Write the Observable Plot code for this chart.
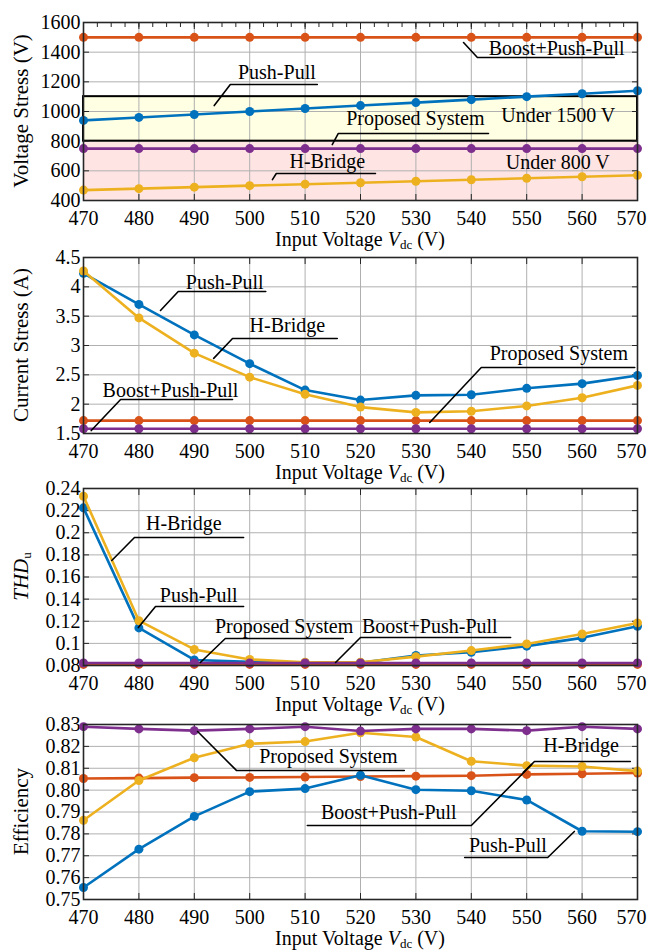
<!DOCTYPE html>
<html><head><meta charset="utf-8">
<script src="https://cdn.jsdelivr.net/npm/d3@7"></script>
<script src="https://cdn.jsdelivr.net/npm/@observablehq/plot@0.6"></script>
<style>
html,body{margin:0;padding:0;background:#fff;width:648px;height:952px;overflow:hidden;}
#root{position:relative;width:648px;height:952px;}
.panel{position:absolute;left:0;}
</style></head><body><div id="root"></div>
<script>
// ---------- data ----------
const vdc = [470, 480, 490, 500, 510, 520, 530, 540, 550, 560, 570];
const seriesNames = ["Boost+Push-Pull", "Push-Pull", "H-Bridge", "Proposed System"];

// Panel 1: voltage stress (V)
const vsBoost    = [1500, 1500, 1500, 1500, 1500, 1500, 1500, 1500, 1500, 1500, 1500];
const vsPushPull = [940, 960, 980, 1000, 1020, 1040, 1060, 1080, 1100, 1120, 1140];
const vsHBridge  = [470, 480, 490, 500, 510, 520, 530, 540, 550, 560, 570];
const vsProposed = [750, 750, 750, 750, 750, 750, 750, 750, 750, 750, 750];
const vsTicks = [400, 600, 800, 1000, 1200, 1400, 1600];
const vsTickLabels = ["400", "600", "800", "1000", "1200", "1400", "1600"];
const vsBandLabels = ["Under 800 V", "Under 1500 V"];
const vsBandLow = [400, 800];
const vsBandHigh = [800, 1100];

// Panel 2: current stress (A)
const csBoost    = [1.72, 1.72, 1.72, 1.72, 1.72, 1.72, 1.72, 1.72, 1.72, 1.72, 1.72];
const csPushPull = [4.23, 3.70, 3.18, 2.69, 2.24, 2.07, 2.15, 2.16, 2.27, 2.35, 2.49];
const csHBridge  = [4.27, 3.47, 2.87, 2.46, 2.17, 1.95, 1.86, 1.88, 1.97, 2.11, 2.32];
const csProposed = [1.58, 1.58, 1.58, 1.58, 1.58, 1.58, 1.58, 1.58, 1.58, 1.58, 1.58];
const csTicks = [1.5, 2, 2.5, 3, 3.5, 4, 4.5];
const csTickLabels = ["1.5", "2", "2.5", "3", "3.5", "4", "4.5"];

// Panel 3: THDu
const thdBoost    = [0.081, 0.081, 0.081, 0.081, 0.081, 0.081, 0.081, 0.081, 0.081, 0.081, 0.081];
const thdPushPull = [0.2225, 0.114, 0.0850, 0.0833, 0.0825, 0.0825, 0.0890, 0.0920, 0.0975, 0.1050, 0.1155];
const thdHBridge  = [0.2330, 0.1205, 0.0945, 0.0855, 0.0830, 0.0830, 0.0880, 0.0935, 0.0995, 0.1085, 0.1185];
const thdProposed = [0.0823, 0.0823, 0.0823, 0.0823, 0.0823, 0.0823, 0.0823, 0.0823, 0.0823, 0.0823, 0.0823];
const thdTicks = [0.08, 0.1, 0.12, 0.14, 0.16, 0.18, 0.2, 0.22, 0.24];
const thdTickLabels = ["0.08", "0.1", "0.12", "0.14", "0.16", "0.18", "0.2", "0.22", "0.24"];

// Panel 4: efficiency
const efBoost    = [0.8053, 0.8055, 0.8057, 0.8058, 0.8060, 0.8062, 0.8064, 0.8066, 0.8072, 0.8075, 0.8078];
const efPushPull = [0.7555, 0.7730, 0.7880, 0.7993, 0.8007, 0.8068, 0.8002, 0.7997, 0.7955, 0.7812, 0.7810];
const efHBridge  = [0.7862, 0.8044, 0.8148, 0.8212, 0.8222, 0.8262, 0.8243, 0.8132, 0.8112, 0.8108, 0.8087];
const efProposed = [0.8290, 0.8280, 0.8272, 0.8280, 0.8290, 0.8270, 0.8280, 0.8280, 0.8272, 0.8290, 0.8280];
const efTicks = [0.75, 0.76, 0.77, 0.78, 0.79, 0.80, 0.81, 0.82, 0.83];
const efTickLabels = ["0.75", "0.76", "0.77", "0.78", "0.79", "0.80", "0.81", "0.82", "0.83"];

// annotations (data coordinates): label, text centre, leader tip, elbow, underline end
const ann1Labels = ["Boost+Push-Pull", "Push-Pull", "Proposed System", "H-Bridge"];
const ann1Text  = [[555.4, 1425], [504.9, 1263], [529.9, 953], [514.0, 663]];
const ann1Tip   = [[538.6, 1465], [493.6, 1040], [514.9, 777], [504.1, 541]];
const ann1Elbow = [[541.1, 1364], [496.5, 1182], [516.0, 852], [504.8, 582]];
const ann1End   = [[565.8, 1364], [512.2, 1182], [543.1, 852], [522.7, 582]];
const band1Text = [[555.6, 656], [555.7, 973]];

const ann2Labels = ["Push-Pull", "H-Bridge", "Proposed System", "Boost+Push-Pull"];
const ann2Text  = [[495.5, 4.074], [506.8, 3.34], [555.8, 2.864], [485.7, 2.233]];
const ann2Tip   = [[483.9, 3.597], [493.5, 2.78], [532.5, 1.688], [471.4, 1.55]];
const ann2Elbow = [[487.1, 3.92], [496.9, 3.12], [541.8, 2.625], [476.7, 2.08]];
const ann2End   = [[502.9, 3.92], [515.8, 3.12], [569.5, 2.625], [496.9, 2.08]];

const ann3Labels = ["H-Bridge", "Push-Pull", "Proposed System", "Boost+Push-Pull"];
const ann3Text  = [[488.1, 0.2084], [490.8, 0.1433], [506.2, 0.1152], [532.5, 0.1152]];
const ann3Tip   = [[475.1, 0.1749], [479.9, 0.1143], [491.1, 0.0827], [515.5, 0.0827]];
const ann3Elbow = [[479.2, 0.1957], [483.0, 0.1333], [495.6, 0.1044], [520.0, 0.1053]];
const ann3End   = [[498.9, 0.1957], [498.9, 0.1333], [516.9, 0.1044], [547.1, 0.1053]];

const ann4Labels = ["Proposed System", "H-Bridge", "Boost+Push-Pull", "Push-Pull"];
const ann4Text  = [[514.2, 0.8154], [559.8, 0.8204], [525.1, 0.7898], [546.6, 0.7747]];
const ann4Tip   = [[490.6, 0.8268], [549.4, 0.8081], [550.9, 0.8117], [558.6, 0.7811]];
const ann4Elbow = [[497.6, 0.8090], [551.4, 0.8131], [540.0, 0.7838], [553.8, 0.7692]];
const ann4End   = [[527.9, 0.8090], [568.7, 0.8131], [510.4, 0.7838], [538.8, 0.7692]];

// ---------- styling ----------
const COLORS = {"Boost+Push-Pull": "#D95319", "Push-Pull": "#0072BD", "H-Bridge": "#EDB120", "Proposed System": "#7E2F8E"};
const DRAW_ORDER = ["Boost+Push-Pull", "Push-Pull", "H-Bridge", "Proposed System"];
const FONT = '"Liberation Serif", "Times New Roman", Times, serif';
const GRID = "#b0b0b0";
const FRAME = "#262626";
const W = 648, ML = 83, MR = 11, MT = 22, MB = 53;

function annTable(labels, text, tip, elbow, end) {
  return labels.map((label, i) => ({label, tx: text[i][0], ty: text[i][1],
    pts: [tip[i], elbow[i], end[i]]}));
}

function makePanel(cfg) {
  const rows = [];
  DRAW_ORDER.forEach(name => {
    const vals = cfg.values[name];
    vdc.forEach((v, i) => rows.push({name, x: v, y: vals[i]}));
  });
  const labelMap = new Map(cfg.yTicks.map((t, i) => [t, cfg.yTickLabels[i]]));
  const anns = cfg.anns;
  const annPts = anns.flatMap(a => a.pts.map(p => ({label: a.label, x: p[0], y: p[1]})));
  const h = cfg.bottom - cfg.top;
  const marks = [];
  if (cfg.bands) {
    marks.push(Plot.rect(cfg.bands.filter(b => b.kind === "low"), {x1: "x1", x2: "x2", y1: "y1", y2: "y2", fill: "#FFE4E4"}));
    marks.push(Plot.rect(cfg.bands.filter(b => b.kind === "high"), {x1: "x1", x2: "x2", y1: "y1", y2: "y2", fill: "#FFFFE3"}));
  }
  marks.push(Plot.gridX(vdc, {stroke: GRID, strokeOpacity: 1, strokeWidth: 1}));
  marks.push(Plot.gridY(cfg.yTicks, {stroke: GRID, strokeOpacity: 1, strokeWidth: 1}));
  if (cfg.bands) {
    marks.push(Plot.rect(cfg.bands.filter(b => b.kind === "high"), {x1: "x1", x2: "x2", y1: "y1", y2: "y2", fill: "none", stroke: "#000", strokeWidth: 2}));
  }
  if (cfg.minorX) {
    marks.push(Plot.axisX(cfg.minorX, {anchor: "top", tickSize: 4, dy: 4, tickFormat: () => "", label: null, stroke: FRAME}));
  }
  // inward ticks
  marks.push(Plot.axisX(vdc, {anchor: "top", tickSize: 6, dy: 6, tickFormat: () => "", label: null, stroke: FRAME}));
  marks.push(Plot.axisX(vdc, {anchor: "bottom", tickSize: 6, dy: -6, tickFormat: () => "", label: null, stroke: FRAME}));
  marks.push(Plot.axisY(cfg.yTicks, {anchor: "left", tickSize: 6, dx: 6, tickFormat: () => "", label: null, stroke: FRAME}));
  marks.push(Plot.axisY(cfg.yTicks, {anchor: "right", tickSize: 6, dx: -6, tickFormat: () => "", label: null, stroke: FRAME}));
  // tick labels (last one nudged so it stays inside the page, as in the reference)
  marks.push(Plot.axisX(vdc.slice(0, -1), {anchor: "bottom", tickSize: 0, tickPadding: 10, tickFormat: d => String(d), label: null, fontSize: 20, fill: "#000"}));
  marks.push(Plot.axisX(vdc.slice(-1), {anchor: "bottom", tickSize: 0, tickPadding: 10, dx: -6, tickFormat: d => String(d), label: null, fontSize: 20, fill: "#000"}));
  marks.push(Plot.axisY(cfg.yTicks, {anchor: "left", tickSize: 0, tickPadding: 3, tickFormat: d => labelMap.get(d), label: null, fontSize: 20, fill: "#000"}));
  // series
  DRAW_ORDER.forEach(name => {
    const d = rows.filter(r => r.name === name);
    marks.push(Plot.line(d, {x: "x", y: "y", stroke: COLORS[name], strokeWidth: 2.6}));
    marks.push(Plot.dot(d, {x: "x", y: "y", fill: COLORS[name], r: 4.5}));
  });
  // annotations
  marks.push(Plot.line(annPts, {x: "x", y: "y", z: "label", stroke: "#000", strokeWidth: 1.6}));
  marks.push(Plot.text(anns, {x: "tx", y: "ty", text: "label", fontSize: 20, fill: "#000", textAnchor: "middle", lineAnchor: "middle"}));
  if (cfg.bands) {
    marks.push(Plot.text(cfg.bands, {x: "tx", y: "ty", text: "label", fontSize: 20, fill: "#000", textAnchor: "middle", lineAnchor: "middle"}));
  }
  marks.push(Plot.frame({stroke: FRAME, strokeWidth: 1.6}));

  const svg = Plot.plot({
    width: W, height: MT + h + MB,
    marginLeft: ML, marginRight: MR, marginTop: MT, marginBottom: MB,
    style: {fontFamily: FONT, fontSize: "20px", background: "transparent", overflow: "visible", color: "#000"},
    x: {domain: [vdc[0], vdc[vdc.length - 1]]},
    y: {domain: [cfg.yTicks[0], cfg.yTicks[cfg.yTicks.length - 1]]},
    marks
  });
  const s = d3.select(svg);
  // x title
  const xt = s.append("text").attr("x", ML + (W - ML - MR) / 2).attr("y", MT + h + 41)
    .attr("text-anchor", "middle").attr("dominant-baseline", "middle")
    .attr("font-family", FONT).attr("font-size", 20).attr("fill", "#000");
  xt.append("tspan").text("Input Voltage ");
  xt.append("tspan").attr("font-style", "italic").text("V");
  xt.append("tspan").attr("font-size", 13).attr("dy", 5).text("dc");
  xt.append("tspan").attr("dy", -5).text(" (V)");
  // y title
  const cy = MT + h / 2;
  const yt = s.append("text").attr("transform", `translate(23,${cy}) rotate(-90)`)
    .attr("text-anchor", "middle").attr("dominant-baseline", "middle")
    .attr("font-family", FONT).attr("font-size", 21).attr("fill", "#000");
  cfg.ylabel(yt);
  const div = document.createElement("div");
  div.className = "panel";
  div.style.top = (cfg.top - MT) + "px";
  div.appendChild(svg);
  document.getElementById("root").appendChild(div);
}

const bands1 = vsBandLabels.map((label, i) => ({label, kind: i === 0 ? "low" : "high",
  x1: vdc[0], x2: vdc[vdc.length - 1], y1: vsBandLow[i], y2: vsBandHigh[i], tx: band1Text[i][0], ty: band1Text[i][1]}));

makePanel({top: 22, bottom: 200, yTicks: vsTicks, yTickLabels: vsTickLabels,
  values: {"Boost+Push-Pull": vsBoost, "Push-Pull": vsPushPull, "H-Bridge": vsHBridge, "Proposed System": vsProposed},
  anns: annTable(ann1Labels, ann1Text, ann1Tip, ann1Elbow, ann1End), bands: bands1,
  minorX: d3.range(470, 570.01, 2.5),
  ylabel: t => t.text("Voltage Stress (V)")});

makePanel({top: 257, bottom: 433, yTicks: csTicks, yTickLabels: csTickLabels,
  values: {"Boost+Push-Pull": csBoost, "Push-Pull": csPushPull, "H-Bridge": csHBridge, "Proposed System": csProposed},
  anns: annTable(ann2Labels, ann2Text, ann2Tip, ann2Elbow, ann2End),
  ylabel: t => t.text("Current Stress (A)")});

makePanel({top: 488, bottom: 665, yTicks: thdTicks, yTickLabels: thdTickLabels,
  values: {"Boost+Push-Pull": thdBoost, "Push-Pull": thdPushPull, "H-Bridge": thdHBridge, "Proposed System": thdProposed},
  anns: annTable(ann3Labels, ann3Text, ann3Tip, ann3Elbow, ann3End),
  ylabel: t => { t.append("tspan").attr("font-style", "italic").text("THD"); t.append("tspan").attr("font-size", 13).attr("dy", 5).text("u"); }});

makePanel({top: 724, bottom: 899, yTicks: efTicks, yTickLabels: efTickLabels,
  values: {"Boost+Push-Pull": efBoost, "Push-Pull": efPushPull, "H-Bridge": efHBridge, "Proposed System": efProposed},
  anns: annTable(ann4Labels, ann4Text, ann4Tip, ann4Elbow, ann4End),
  ylabel: t => t.text("Efficiency")});
</script></body></html>
